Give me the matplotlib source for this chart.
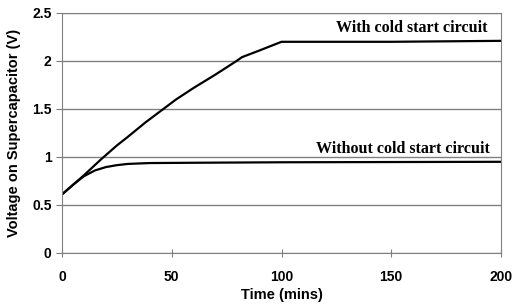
import matplotlib
matplotlib.use("Agg")
import matplotlib.pyplot as plt

t_with = [0, 5, 10, 18, 25, 30, 38, 45, 52, 60, 70, 79.5, 82, 90, 100, 150, 200]
v_with = [0.61, 0.71, 0.81, 0.98, 1.12, 1.21, 1.36, 1.48, 1.6, 1.72, 1.86, 2.0, 2.04, 2.11, 2.2, 2.2, 2.21]
t_without = [0, 5, 10, 15, 20, 25, 30, 40, 60, 100, 200]
v_without = [0.61, 0.71, 0.8, 0.86, 0.895, 0.915, 0.928, 0.937, 0.94, 0.945, 0.95]
xticks = [0, 50, 100, 150, 200]
yticks = [0, 0.5, 1, 1.5, 2, 2.5]
ylabels = ["0", "0.5", "1", "1.5", "2", "2.5"]

fig = plt.figure(figsize=(5.13, 3.05), dpi=100)
ax = fig.add_axes([62/513, 1-253/305, (501-62)/513, (253-13)/305])
ax.plot(t_with, v_with, color="black", lw=1.6)
ax.plot(t_without, v_without, color="black", lw=1.6)
ax.set_xlim(0, 200)
ax.set_ylim(0, 2.5)
ax.set_xticks(xticks)
ax.set_yticks(yticks)
ax.set_yticklabels(ylabels)
ax.yaxis.grid(True, color="#808080", lw=1)
for s in ax.spines.values():
    s.set_color("#808080")
ax.tick_params(axis="both", colors="#808080", labelcolor="black", labelsize=10, direction="out", length=4)
ax.tick_params(axis="x", direction="inout", length=6, pad=9)
for lab in ax.get_xticklabels() + ax.get_yticklabels():
    lab.set_fontweight("bold")
    lab.set_family("Liberation Sans")
ax.set_xlabel("Time (mins)", fontsize=10.5, fontweight="bold", family="Liberation Sans", labelpad=3)
ax.set_ylabel("Voltage on Supercapacitor (V)", fontsize=10.5, fontweight="bold", family="Liberation Sans", labelpad=8)
ax.text(194, 2.34, "With cold start circuit", ha="right", va="center", family="Liberation Serif", fontweight="bold", fontsize=11.5)
ax.text(195, 1.085, "Without cold start circuit", ha="right", va="center", family="Liberation Serif", fontweight="bold", fontsize=11.5)
fig.savefig("out.png", dpi=100)
